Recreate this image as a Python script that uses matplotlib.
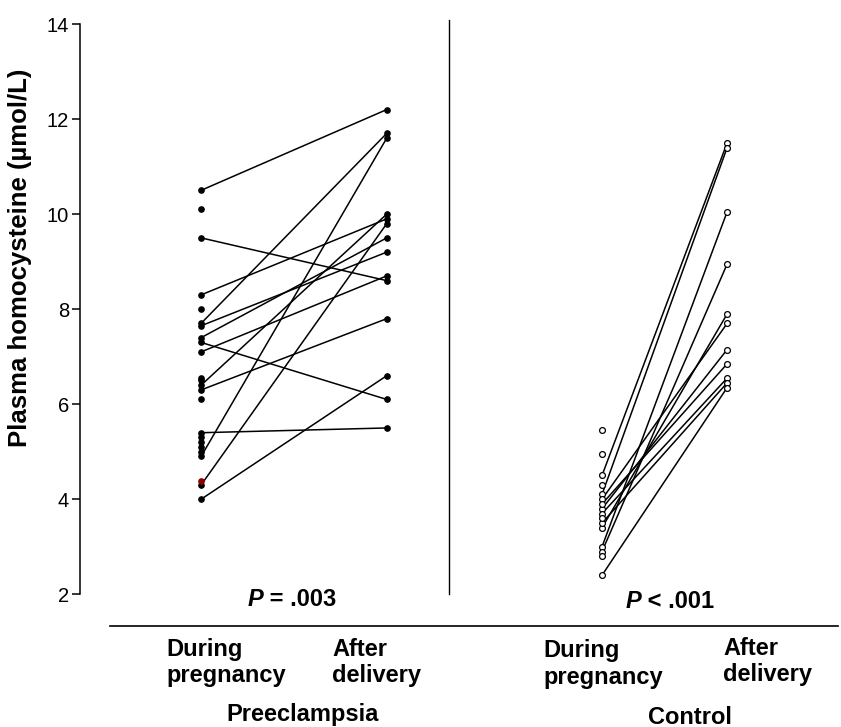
import numpy as np
import matplotlib.pyplot as plt
from matplotlib.lines import Line2D

plt.rcParams['font.family'] = ['Liberation Sans', 'DejaVu Sans']

W, H = 841, 727
nan = np.nan

# preeclampsia: during pregnancy -> after delivery (nan = no follow-up line)
pre_during = [10.5, 9.5, 8.3, 7.7, 7.65, 7.4, 7.3, 7.1, 6.4, 6.3, 5.4, 4.9, 4.3, 4.0,
              10.1, 8.0, 6.55, 6.5, 6.1, 5.3, 5.2, 5.1, 5.0]
pre_after = [12.2, 8.6, 9.9, 11.7, 9.2, 9.5, 6.1, 8.7, 10.0, 7.8, 5.5, 11.6, 9.8, 6.6,
             nan, nan, nan, nan, nan, nan, nan, nan, nan]
pre_red = [4.38]

# control
ctrl_during = [4.5, 4.1, 3.0, 2.9, 3.4, 4.0, 3.8, 3.9, 3.7, 3.5, 2.4,
               5.45, 4.95, 4.3, 3.6, 2.8]
ctrl_after = [11.5, 11.4, 10.05, 8.95, 7.9, 7.7, 7.15, 6.85, 6.55, 6.45, 6.35,
              nan, nan, nan, nan, nan]

yticks = [2, 4, 6, 8, 10, 12, 14]
pre_x = (1.0, 2.0)
ctrl_x = (3.159, 3.833)
divider_x = 2.336


def fx(px):
    return px / W


def fy(py):
    return 1 - py / H


fig = plt.figure(figsize=(W / 100, H / 100), dpi=100)
ax = fig.add_axes([fx(80), fy(594.3), fx(841) - fx(80), fy(24) - fy(594.3)])

for d, a in zip(pre_during, pre_after):
    if not np.isnan(a):
        ax.plot(pre_x, [d, a], color='black', lw=1.1, zorder=2)
for d, a in zip(ctrl_during, ctrl_after):
    if not np.isnan(a):
        ax.plot(ctrl_x, [d, a], color='black', lw=1.1, zorder=2)

pa = np.array(pre_after)
ax.plot(np.full(len(pre_during), pre_x[0]), pre_during, 'o', color='black', ms=3.8, zorder=3)
ax.plot(np.full((~np.isnan(pa)).sum(), pre_x[1]), pa[~np.isnan(pa)], 'o', color='black', ms=3.8, zorder=3)
ax.plot(np.full(len(pre_red), pre_x[0]), pre_red, 'o', color='#8b0000', ms=3.8, zorder=3)

ca = np.array(ctrl_after)
ax.plot(np.full(len(ctrl_during), ctrl_x[0]), ctrl_during, 'o', mfc='white', mec='black',
        mew=0.9, ms=4.2, zorder=3)
ax.plot(np.full((~np.isnan(ca)).sum(), ctrl_x[1]), ca[~np.isnan(ca)], 'o', mfc='white',
        mec='black', mew=0.9, ms=4.2, zorder=3)

ax.plot([divider_x, divider_x], [2, 14.08], color='black', lw=1.0, clip_on=False)

ax.set_xlim(0.348, 4.446)
ax.set_ylim(2, 14)
ax.set_yticks(yticks)
ax.set_yticklabels([str(t) for t in yticks], fontsize=14.5)
ax.tick_params(axis='y', length=6, width=1.1, pad=2)
ax.set_xticks([])
for s in ['top', 'right', 'bottom']:
    ax.spines[s].set_visible(False)
ax.spines['left'].set_linewidth(1.1)

fig.text(fx(20), fy(258), 'Plasma homocysteine (\u00b5mol/L)', rotation=90,
         ha='center', va='center', fontsize=18.5, fontweight='bold')

fig.add_artist(Line2D([fx(110), fx(838)], [fy(626), fy(626)], color='black', lw=1.2))

# P values
fig.text(fx(263), fy(599), 'P', ha='right', va='center', fontsize=17,
         fontweight='bold', style='italic')
fig.text(fx(263), fy(599), ' = .003', ha='left', va='center', fontsize=17, fontweight='bold')
fig.text(fx(641), fy(602), 'P', ha='right', va='center', fontsize=17,
         fontweight='bold', style='italic')
fig.text(fx(641), fy(602), ' < .001', ha='left', va='center', fontsize=17, fontweight='bold')

# group labels
fig.text(fx(166), fy(662.5), 'During\npregnancy', ha='left', va='center', fontsize=17,
         fontweight='bold')
fig.text(fx(332), fy(662.5), 'After\ndelivery', ha='left', va='center', fontsize=17,
         fontweight='bold')
fig.text(fx(303), fy(715), 'Preeclampsia', ha='center', va='center', fontsize=17,
         fontweight='bold')
fig.text(fx(543), fy(664), 'During\npregnancy', ha='left', va='center', fontsize=17,
         fontweight='bold')
fig.text(fx(723), fy(661.5), 'After\ndelivery', ha='left', va='center', fontsize=17,
         fontweight='bold')
fig.text(fx(690), fy(717), 'Control', ha='center', va='center', fontsize=17,
         fontweight='bold')

fig.savefig('out.png', dpi=100)
